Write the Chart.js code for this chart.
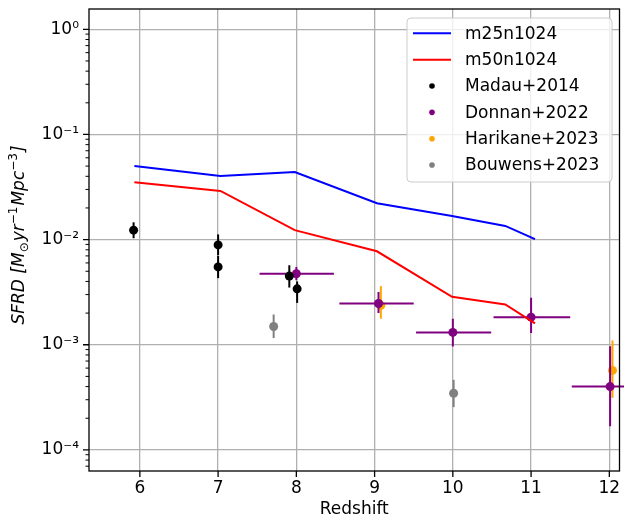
<!DOCTYPE html>
<html>
<head>
<meta charset="utf-8">
<script src="https://cdn.jsdelivr.net/npm/chart.js@4.4.0/dist/chart.umd.min.js"></script>
<style>
  html, body { margin: 0; padding: 0; background: #fff; }
  #sfrd { display: block; }
</style>
</head>
<body>
<canvas id="sfrd" width="624" height="517"></canvas>
<script>
// simulation runs
const simRedshift = [5.93, 7.03, 7.98, 9.03, 9.99, 10.67, 11.05];
const m25n1024 = [0.0502, 0.0403, 0.0440, 0.0222, 0.0168, 0.0135, 0.0101];
const m50n1024 = [0.0351, 0.0290, 0.0123, 0.00774, 0.00286, 0.00242, 0.0016];

// observations (value, lower and upper end of error bar)
const madauZ = [5.92, 7.0, 7.0, 7.91, 8.01];
const madauSfrd = [0.0123, 0.0089, 0.0055, 0.0045, 0.0034];
const madauLo = [0.0103, 0.0071, 0.0043, 0.0035, 0.0025];
const madauHi = [0.0146, 0.0112, 0.0070, 0.0057, 0.0040];

const donnanZ = [8.0, 9.05, 10.0, 11.0, 12.01];
const donnanZLo = [7.53, 8.55, 9.53, 10.52, 11.52];
const donnanZHi = [8.48, 9.50, 10.49, 11.50, 12.50];
const donnanSfrd = [0.00474, 0.00247, 0.00131, 0.00183, 0.00040];
const donnanLo = [0.0041, 0.0020, 0.00096, 0.00129, 0.000168];
const donnanHi = [0.0055, 0.00317, 0.00177, 0.0028, 0.00097];

const harikaneZ = [9.08, 12.04];
const harikaneSfrd = [0.00237, 0.00057];
const harikaneLo = [0.00177, 0.000313];
const harikaneHi = [0.00361, 0.0011];

const bouwensZ = [7.71, 10.01];
const bouwensSfrd = [0.00149, 0.000346];
const bouwensLo = [0.00116, 0.000255];
const bouwensHi = [0.00194, 0.000464];

const xTicks = [6, 7, 8, 9, 10, 11, 12];
const yTicks = [1, 0.1, 0.01, 0.001, 0.0001];
const yTickLabels = ['10⁰', '10⁻¹', '10⁻²', '10⁻³', '10⁻⁴'];

// y label pieces: [text, kind] where kind is main / sub / sup
const yTitleParts = [
  ['SFRD [M', 'it'], ['⊙', 'sub'], ['yr', 'it'], ['−1', 'sup'],
  ['Mpc', 'it'], ['−3', 'sup'], [']', 'it']
];

function pts(xs, ys) {
  return xs.map((x, i) => ({ x: x, y: ys[i] }));
}

function lineSet(label, ys, color) {
  return {
    label: label, data: pts(simRedshift, ys), showLine: true,
    borderColor: color, backgroundColor: color, borderWidth: 2,
    pointRadius: 0, pointHoverRadius: 0, kind: 'line'
  };
}

function obsSet(label, xs, ys, lo, hi, color, xlo, xhi) {
  return {
    label: label, data: pts(xs, ys), showLine: false,
    backgroundColor: color, borderColor: color, borderWidth: 0,
    pointRadius: 4.5, pointHoverRadius: 4.5,
    yLo: lo, yHi: hi, xLo: xlo, xHi: xhi, kind: 'point'
  };
}

// matplotlib style errorbars, drawn just under each dataset's markers
const errorBars = {
  id: 'errorBars',
  beforeDatasetDraw(chart, args) {
    const ds = chart.data.datasets[args.index];
    if (!ds.yLo) return;
    const { ctx, scales: { x, y } } = chart;
    ctx.save();
    ctx.strokeStyle = ds.backgroundColor;
    ctx.lineWidth = 2;
    ds.data.forEach((p, i) => {
      const px = x.getPixelForValue(p.x);
      const py = y.getPixelForValue(p.y);
      ctx.beginPath();
      ctx.moveTo(px, y.getPixelForValue(ds.yLo[i]));
      ctx.lineTo(px, y.getPixelForValue(ds.yHi[i]));
      if (ds.xLo) {
        ctx.moveTo(x.getPixelForValue(ds.xLo[i]), py);
        ctx.lineTo(x.getPixelForValue(ds.xHi[i]), py);
      }
      ctx.stroke();
    });
    ctx.restore();
  }
};

function drawYTitle(ctx, cx, cy) {
  const fonts = {
    it: 'italic 17px "DejaVu Sans"',
    sub: '12px "DejaVu Sans"',
    sup: '12px "DejaVu Sans"'
  };
  const shift = { it: 0, sub: 4, sup: -7 };
  let total = 0;
  yTitleParts.forEach(([t, k]) => { ctx.font = fonts[k]; total += ctx.measureText(t).width + (k === 'it' ? 0 : 1); });
  ctx.save();
  ctx.translate(cx, cy);
  ctx.rotate(-Math.PI / 2);
  ctx.fillStyle = '#000';
  ctx.textBaseline = 'alphabetic';
  ctx.textAlign = 'left';
  let pos = -total / 2;
  yTitleParts.forEach(([t, k]) => {
    ctx.font = fonts[k];
    ctx.fillText(t, pos, 6 + shift[k]);
    pos += ctx.measureText(t).width + (k === 'it' ? 0 : 1);
  });
  ctx.restore();
}

// frame, outward ticks, y title and the legend box
const frame = {
  id: 'frame',
  afterDraw(chart) {
    const { ctx, chartArea: a, scales: { x, y } } = chart;
    ctx.save();
    ctx.strokeStyle = '#000';
    ctx.lineWidth = 1.3;
    ctx.strokeRect(a.left, a.top, a.right - a.left, a.bottom - a.top);

    ctx.beginPath();
    xTicks.forEach(v => {
      const px = x.getPixelForValue(v);
      ctx.moveTo(px, a.bottom);
      ctx.lineTo(px, a.bottom + 6);
    });
    yTicks.forEach(v => {
      const py = y.getPixelForValue(v);
      ctx.moveTo(a.left - 6, py);
      ctx.lineTo(a.left, py);
    });
    ctx.stroke();

    ctx.lineWidth = 1;
    ctx.beginPath();
    for (let d = -5; d <= 0; d++) {
      for (let k = 2; k <= 9; k++) {
        const v = k * Math.pow(10, d);
        if (v < y.min || v > y.max) continue;
        const py = y.getPixelForValue(v);
        ctx.moveTo(a.left - 3.5, py);
        ctx.lineTo(a.left, py);
      }
    }
    ctx.stroke();

    drawYTitle(ctx, 18, 235);

    // legend
    const lx = 407, ly = 18, lw = 205, lh = 164;
    ctx.beginPath();
    ctx.roundRect(lx, ly, lw, lh, 4);
    ctx.fillStyle = 'rgba(255,255,255,0.8)';
    ctx.fill();
    ctx.strokeStyle = '#cccccc';
    ctx.lineWidth = 1;
    ctx.stroke();

    ctx.font = '17px "DejaVu Sans"';
    ctx.textBaseline = 'middle';
    ctx.textAlign = 'left';
    chart.data.datasets.forEach((ds, i) => {
      const ry = 33.3 + i * 26.35;
      if (ds.kind === 'line') {
        ctx.strokeStyle = ds.borderColor;
        ctx.lineWidth = 2;
        ctx.beginPath();
        ctx.moveTo(413, ry);
        ctx.lineTo(451, ry);
        ctx.stroke();
      } else {
        ctx.fillStyle = ds.backgroundColor;
        ctx.beginPath();
        ctx.arc(432, ry, 2.8, 0, Math.PI * 2);
        ctx.fill();
      }
      ctx.fillStyle = '#000';
      ctx.fillText(ds.label, 465, ry + 1);
    });
    ctx.restore();
  }
};

Chart.defaults.font.family = '"DejaVu Sans", sans-serif';
Chart.defaults.font.size = 17;
Chart.defaults.color = '#000';

new Chart(document.getElementById('sfrd'), {
  type: 'scatter',
  data: {
    datasets: [
      lineSet('m25n1024', m25n1024, '#0000ff'),
      lineSet('m50n1024', m50n1024, '#ff0000'),
      obsSet('Madau+2014', madauZ, madauSfrd, madauLo, madauHi, '#000000'),
      obsSet('Donnan+2022', donnanZ, donnanSfrd, donnanLo, donnanHi, '#800080', donnanZLo, donnanZHi),
      obsSet('Harikane+2023', harikaneZ, harikaneSfrd, harikaneLo, harikaneHi, '#ffa500'),
      obsSet('Bouwens+2023', bouwensZ, bouwensSfrd, bouwensLo, bouwensHi, '#808080')
    ]
  },
  options: {
    responsive: false,
    animation: false,
    devicePixelRatio: 1,
    layout: { padding: { left: 0, right: 2, top: 9, bottom: 0 } },
    plugins: { legend: { display: false }, tooltip: { enabled: false } },
    scales: {
      x: {
        type: 'linear', min: 5.35, max: 12.13,
        afterBuildTicks: s => { s.ticks = xTicks.map(v => ({ value: v })); },
        afterFit: s => { s.height = 46; s.paddingLeft = 0; s.paddingRight = 0; },
        ticks: { padding: 7, maxRotation: 0, callback: v => String(v) },
        grid: { color: '#b0b0b0', lineWidth: 1.3, drawTicks: false },
        border: { display: false },
        title: { display: true, text: 'Redshift', padding: { top: 0, bottom: -3 } }
      },
      y: {
        type: 'logarithmic', min: 6.3e-5, max: 1.56,
        afterBuildTicks: s => { s.ticks = yTicks.map(v => ({ value: v })); },
        afterFit: s => { s.width = 89; s.paddingTop = 0; s.paddingBottom = 0; },
        ticks: { padding: 10, callback: v => yTickLabels[yTicks.indexOf(v)] },
        grid: { color: '#b0b0b0', lineWidth: 1.3, drawTicks: false },
        border: { display: false },
        title: { display: false }
      }
    }
  },
  plugins: [errorBars, frame]
});
</script>
</body>
</html>
